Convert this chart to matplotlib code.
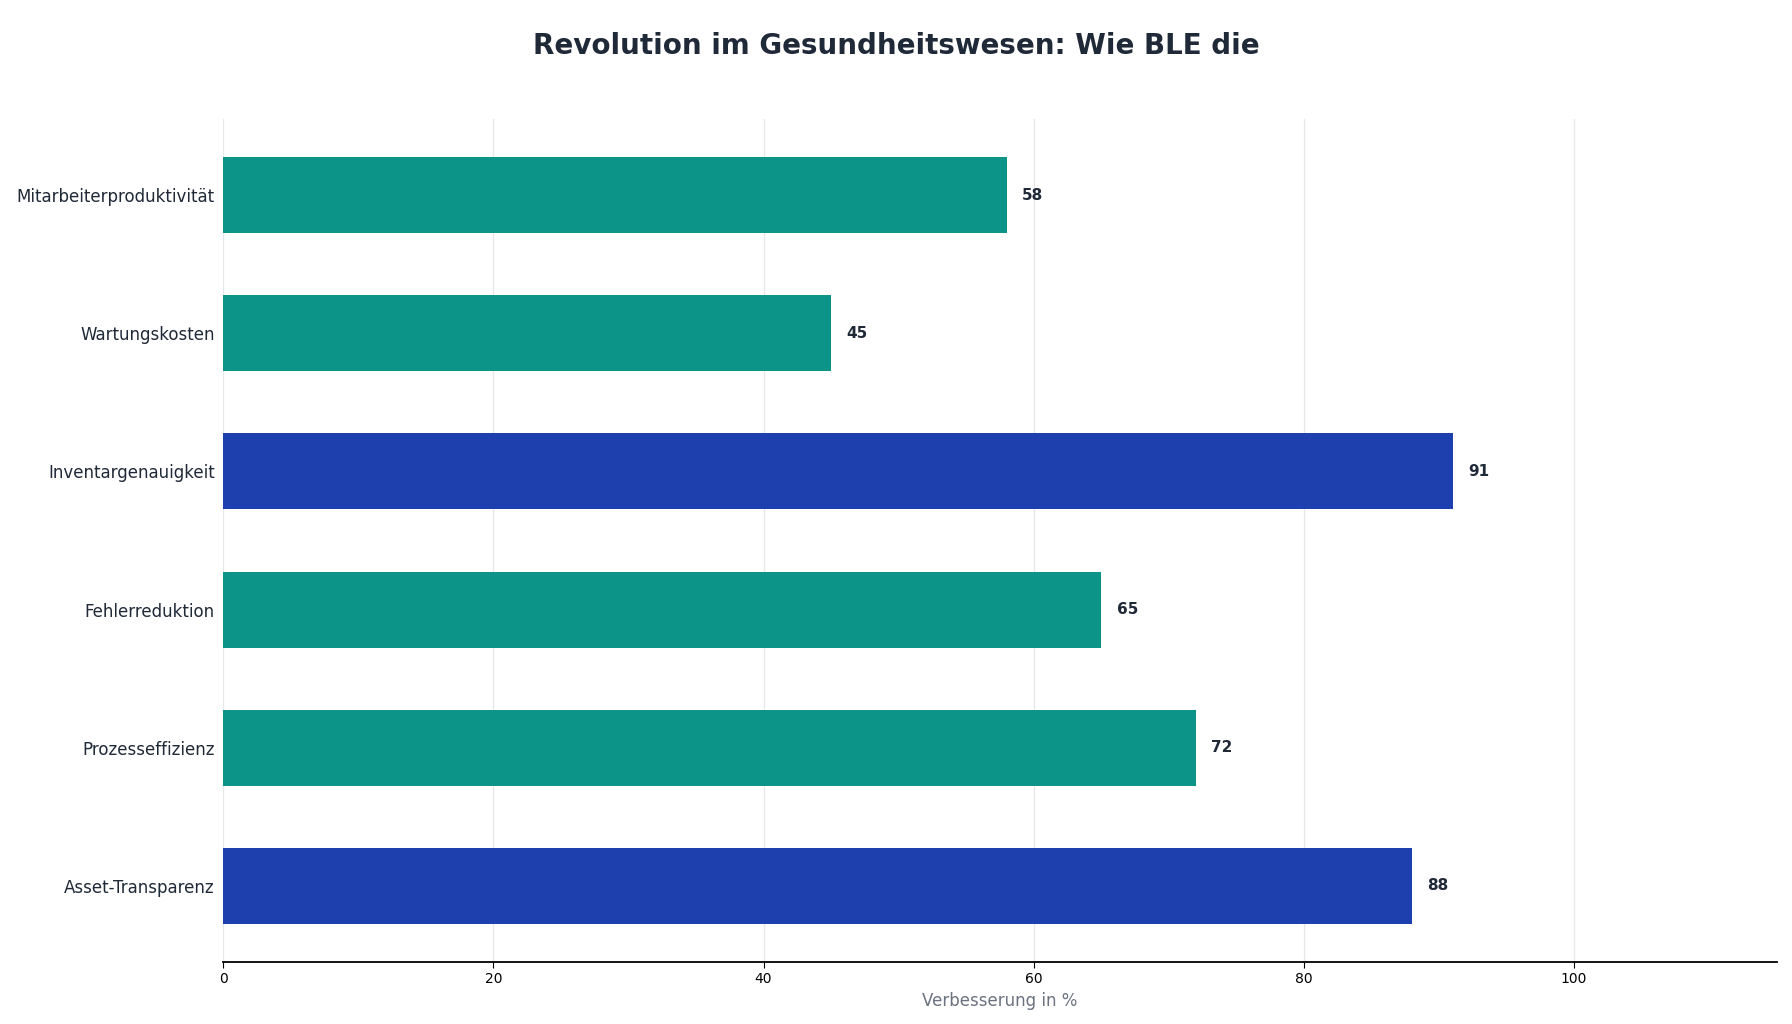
import matplotlib
matplotlib.use("Agg")
import matplotlib.pyplot as plt

# data (bottom to top)
categories = ["Asset-Transparenz", "Prozesseffizienz", "Fehlerreduktion",
              "Inventargenauigkeit", "Wartungskosten", "Mitarbeiterproduktivität"]
values = [88, 72, 65, 91, 45, 58]
x_ticks = [0, 20, 40, 60, 80, 100]

TEAL = "#0d9488"
BLUE = "#1e40af"
DARK = "#1f2937"

colors = [BLUE if v > 80 else TEAL for v in values]

fig = plt.figure(figsize=(17.92, 10.24), dpi=100)
ax = fig.add_axes([0.1245, 0.0605, 0.867, 0.8233])

bars = ax.barh(categories, values, height=0.55, color=colors, zorder=3)

for b, v in zip(bars, values):
    ax.annotate(str(v), (b.get_width(), b.get_y() + b.get_height() / 2),
                xytext=(11, 0), textcoords="offset points",
                ha="left", va="center", fontsize=11, fontweight="bold", color=DARK)

ax.set_xlim(0, 115)
ax.set_xticks(x_ticks)
ax.tick_params(axis="x", labelsize=10, colors="black", length=4)
ax.tick_params(axis="y", labelsize=12, length=0, pad=6, labelcolor=DARK)
ax.grid(axis="x", color="#e5e7eb", linewidth=0.9, zorder=0)
ax.grid(axis="y", visible=False)

for s in ["top", "right", "left"]:
    ax.spines[s].set_visible(False)
ax.spines["bottom"].set_color("black")
ax.spines["bottom"].set_linewidth(1.3)

ax.set_xlabel("Verbesserung in %", fontsize=12, color="#6b7280", labelpad=4)
fig.suptitle("Revolution im Gesundheitswesen: Wie BLE die", fontsize=20,
             fontweight="bold", color=DARK, y=0.969)

fig.savefig("out.png", dpi=100)
